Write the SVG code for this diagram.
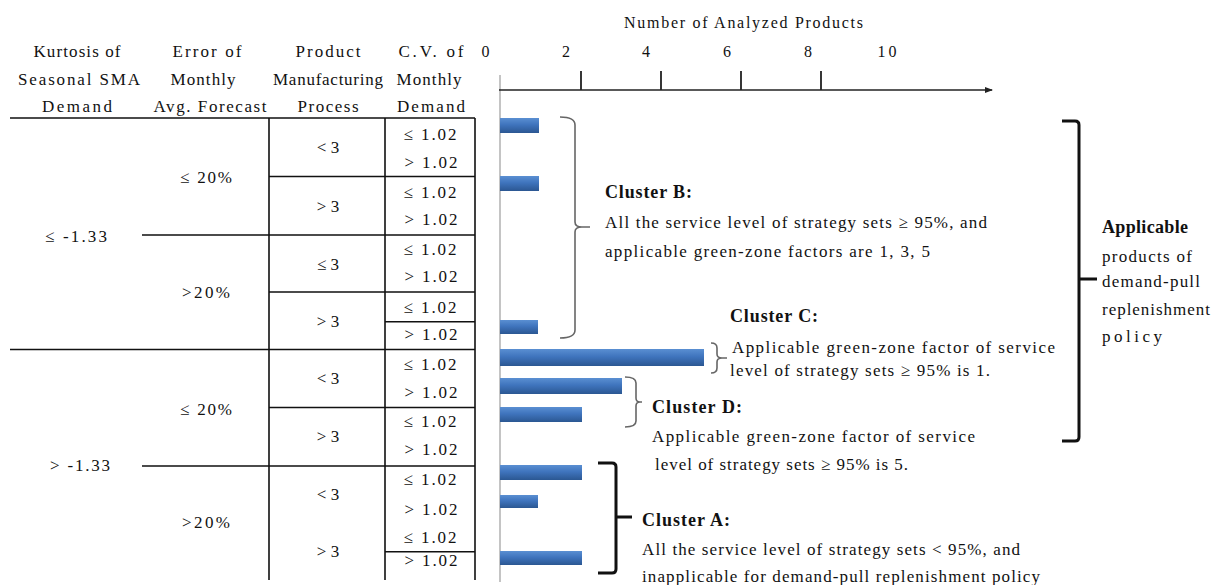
<svg xmlns="http://www.w3.org/2000/svg" width="1222" height="585" viewBox="0 0 1222 585" font-family="'Liberation Serif','Times New Roman',serif">
<defs>
<linearGradient id="barg" x1="0" y1="0" x2="0" y2="1">
<stop offset="0" stop-color="#5a8fd2"/>
<stop offset="0.45" stop-color="#3f74bd"/>
<stop offset="1" stop-color="#2b5792"/>
</linearGradient>
<marker id="arr" markerWidth="8" markerHeight="6" refX="7" refY="3" orient="auto" markerUnits="userSpaceOnUse">
<path d="M0,0 L8,3 L0,6 Z" fill="#222"/>
</marker>
<style>
text{font-family:"Liberation Serif","Times New Roman",serif;fill:#111;}
.h{font-size:17px;text-anchor:middle;}
.c{font-size:17px;text-anchor:middle;}
.t{font-size:17px;}
.b{font-size:18px;font-weight:bold;}
.tk{font-size:16px;text-anchor:middle;}
.tl{stroke:#111;stroke-width:1.6;fill:none;}
.bar{fill:url(#barg);}
.gb{stroke:#666;stroke-width:1.6;fill:none;}
.kb{stroke:#111;stroke-width:3;fill:none;}
</style>
</defs>
<rect width="1222" height="585" fill="#fff"/>

<g id="table-header">
<text class="h" x="77" y="57" textLength="87" lengthAdjust="spacing">Kurtosis of</text>
<text class="h" x="79" y="85" textLength="122" lengthAdjust="spacing">Seasonal SMA</text>
<text class="h" x="77" y="112" textLength="70" lengthAdjust="spacing">Demand</text>
<text class="h" x="207" y="57" textLength="69" lengthAdjust="spacing">Error of</text>
<text class="h" x="203" y="85" textLength="65" lengthAdjust="spacing">Monthly</text>
<text class="h" x="210" y="112" textLength="113" lengthAdjust="spacing">Avg. Forecast</text>
<text class="h" x="328" y="57" textLength="65" lengthAdjust="spacing">Product</text>
<text class="h" x="328" y="85" textLength="110" lengthAdjust="spacing">Manufacturing</text>
<text class="h" x="328" y="112" textLength="61" lengthAdjust="spacing">Process</text>
<text class="h" x="431" y="57" textLength="65" lengthAdjust="spacing">C.V.  of</text>
<text class="h" x="429" y="85" textLength="65" lengthAdjust="spacing">Monthly</text>
<text class="h" x="431" y="112" textLength="68" lengthAdjust="spacing">Demand</text>
</g>

<g id="table-lines">
<path class="tl" d="M10,118 H475 M10,349.5 H475 M142,235 H475 M142,466 H475 M269,176.5 H475 M269,292 H475 M269,407.5 H475 M385,321.7 H475 M385,551.7 H475 M269,118 V580 M385,118 V580 M475,118 V580"/>
</g>

<g id="table-kurtosis">
<text class="c" x="76" y="242" textLength="62" lengthAdjust="spacing">≤ -1.33</text>
<text class="c" x="80" y="471" textLength="60" lengthAdjust="spacing">&gt; -1.33</text>
</g>

<g id="table-error">
<text class="c" x="206" y="183" textLength="52" lengthAdjust="spacing">≤ 20%</text>
<text class="c" x="206" y="298" textLength="48" lengthAdjust="spacing">&gt;20%</text>
<text class="c" x="206" y="415" textLength="52" lengthAdjust="spacing">≤ 20%</text>
<text class="c" x="206" y="528" textLength="48" lengthAdjust="spacing">&gt;20%</text>
</g>

<g id="table-process">
<text class="c" x="328" y="153">&lt; 3</text>
<text class="c" x="328" y="212">&gt; 3</text>
<text class="c" x="328" y="270">≤ 3</text>
<text class="c" x="328" y="327">&gt; 3</text>
<text class="c" x="328" y="384">&lt; 3</text>
<text class="c" x="328" y="442">&gt; 3</text>
<text class="c" x="328" y="500">&lt; 3</text>
<text class="c" x="328" y="557">&gt; 3</text>
</g>

<g id="table-cv">
<text class="c" x="430" y="140" textLength="53" lengthAdjust="spacing">≤ 1.02</text>
<text class="c" x="431" y="168" textLength="53" lengthAdjust="spacing">&gt; 1.02</text>
<text class="c" x="430" y="198" textLength="53" lengthAdjust="spacing">≤ 1.02</text>
<text class="c" x="431" y="225" textLength="53" lengthAdjust="spacing">&gt; 1.02</text>
<text class="c" x="430" y="255" textLength="53" lengthAdjust="spacing">≤ 1.02</text>
<text class="c" x="431" y="282" textLength="53" lengthAdjust="spacing">&gt; 1.02</text>
<text class="c" x="430" y="313" textLength="53" lengthAdjust="spacing">≤ 1.02</text>
<text class="c" x="431" y="340" textLength="53" lengthAdjust="spacing">&gt; 1.02</text>
<text class="c" x="430" y="370" textLength="53" lengthAdjust="spacing">≤ 1.02</text>
<text class="c" x="431" y="398" textLength="53" lengthAdjust="spacing">&gt; 1.02</text>
<text class="c" x="430" y="427" textLength="53" lengthAdjust="spacing">≤ 1.02</text>
<text class="c" x="431" y="455" textLength="53" lengthAdjust="spacing">&gt; 1.02</text>
<text class="c" x="430" y="485" textLength="53" lengthAdjust="spacing">≤ 1.02</text>
<text class="c" x="431" y="515" textLength="53" lengthAdjust="spacing">&gt; 1.02</text>
<text class="c" x="430" y="543" textLength="53" lengthAdjust="spacing">≤ 1.02</text>
<text class="c" x="431" y="566" textLength="53" lengthAdjust="spacing">&gt; 1.02</text>
</g>

<g id="axis">
<text class="t" x="624" y="28" style="font-size:16px" textLength="239" lengthAdjust="spacing">Number of Analyzed Products</text>
<text class="tk" x="485.5" y="57">0</text>
<text class="tk" x="566" y="57">2</text>
<text class="tk" x="646" y="57">4</text>
<text class="tk" x="727" y="57">6</text>
<text class="tk" x="808" y="57">8</text>
<text class="tk" x="887" y="57" textLength="19" lengthAdjust="spacing">10</text>
<line x1="500" y1="75" x2="500" y2="582" stroke="#b0b0b0" stroke-width="1.5"/>
<line x1="499" y1="90" x2="992" y2="90" stroke="#222" stroke-width="1.5" marker-end="url(#arr)"/>
<path d="M581,71 V90 M661,71 V90 M741,71 V90 M821,71 V90" stroke="#222" stroke-width="1.8" fill="none"/>
</g>

<g id="bars">
<rect class="bar" x="500" y="118" width="39" height="15"/>
<rect class="bar" x="500" y="176" width="39" height="15"/>
<rect class="bar" x="500" y="320" width="38" height="14"/>
<rect class="bar" x="500" y="349" width="204" height="17"/>
<rect class="bar" x="500" y="378" width="122" height="16"/>
<rect class="bar" x="500" y="407" width="82" height="15"/>
<rect class="bar" x="500" y="465" width="82" height="15"/>
<rect class="bar" x="500" y="495" width="38" height="13"/>
<rect class="bar" x="500" y="551" width="82" height="14"/>
</g>

<g id="connectors">
<path class="gb" d="M560,117 Q575,117 575,125 L575,222 Q575,227 582,227 L590,227 M582,227 Q575,227 575,232 L575,330 Q575,338 560,338"/>
<path class="gb" d="M711,343 Q717,343 717,348 L717,354 Q717,358 722,358 L727,358 M722,358 Q717,358 717,362 L717,368 Q717,373 711,373"/>
<path class="gb" d="M625,377 Q636,377 636,383 L636,398 Q636,402 640,402 L642,402 M640,402 Q636,402 636,406 L636,421 Q636,427 625,427"/>
<path class="kb" d="M598,463 L612,463 Q616,463 616,467 L616,517 L632,517 M616,517 L616,569 Q616,573 612,573 L598,573"/>
<path class="kb" d="M1062,121 L1075,121 Q1079,121 1079,125 L1079,279 L1097,279 M1079,279 L1079,437 Q1079,441 1075,441 L1062,441"/>
</g>

<g id="cluster-b">
<text class="b" x="605" y="198" textLength="87" lengthAdjust="spacing">Cluster B:</text>
<text class="t" x="605" y="228" textLength="382" lengthAdjust="spacing">All the service level of strategy sets ≥ 95%, and</text>
<text class="t" x="605" y="257" textLength="325" lengthAdjust="spacing">applicable green-zone factors are 1, 3, 5</text>
</g>

<g id="cluster-c">
<text class="b" x="730" y="322" textLength="88" lengthAdjust="spacing">Cluster C:</text>
<text class="t" x="732" y="353" textLength="323" lengthAdjust="spacing">Applicable green-zone factor of service</text>
<text class="t" x="730" y="376" textLength="260" lengthAdjust="spacing">level of strategy sets ≥ 95% is 1.</text>
</g>

<g id="cluster-d">
<text class="b" x="652" y="413" textLength="90" lengthAdjust="spacing">Cluster D:</text>
<text class="t" x="652" y="442" textLength="323" lengthAdjust="spacing">Applicable green-zone factor of service</text>
<text class="t" x="655" y="470" textLength="253" lengthAdjust="spacing">level of strategy sets ≥ 95% is 5.</text>
</g>

<g id="cluster-a">
<text class="b" x="642" y="526" textLength="88" lengthAdjust="spacing">Cluster A:</text>
<text class="t" x="642" y="555" textLength="378" lengthAdjust="spacing">All the service level of strategy sets &lt; 95%, and</text>
<text class="t" x="642" y="582" textLength="398" lengthAdjust="spacing">inapplicable for demand-pull replenishment policy</text>
</g>

<g id="applicable">
<text class="b" x="1102" y="233" textLength="86" lengthAdjust="spacing">Applicable</text>
<text class="t" x="1102" y="262" textLength="90" lengthAdjust="spacing">products of</text>
<text class="t" x="1102" y="287" textLength="98" lengthAdjust="spacing">demand-pull</text>
<text class="t" x="1102" y="315" textLength="108" lengthAdjust="spacing">replenishment</text>
<text class="t" x="1102" y="342" textLength="60" lengthAdjust="spacing">policy</text>
</g>
</svg>
